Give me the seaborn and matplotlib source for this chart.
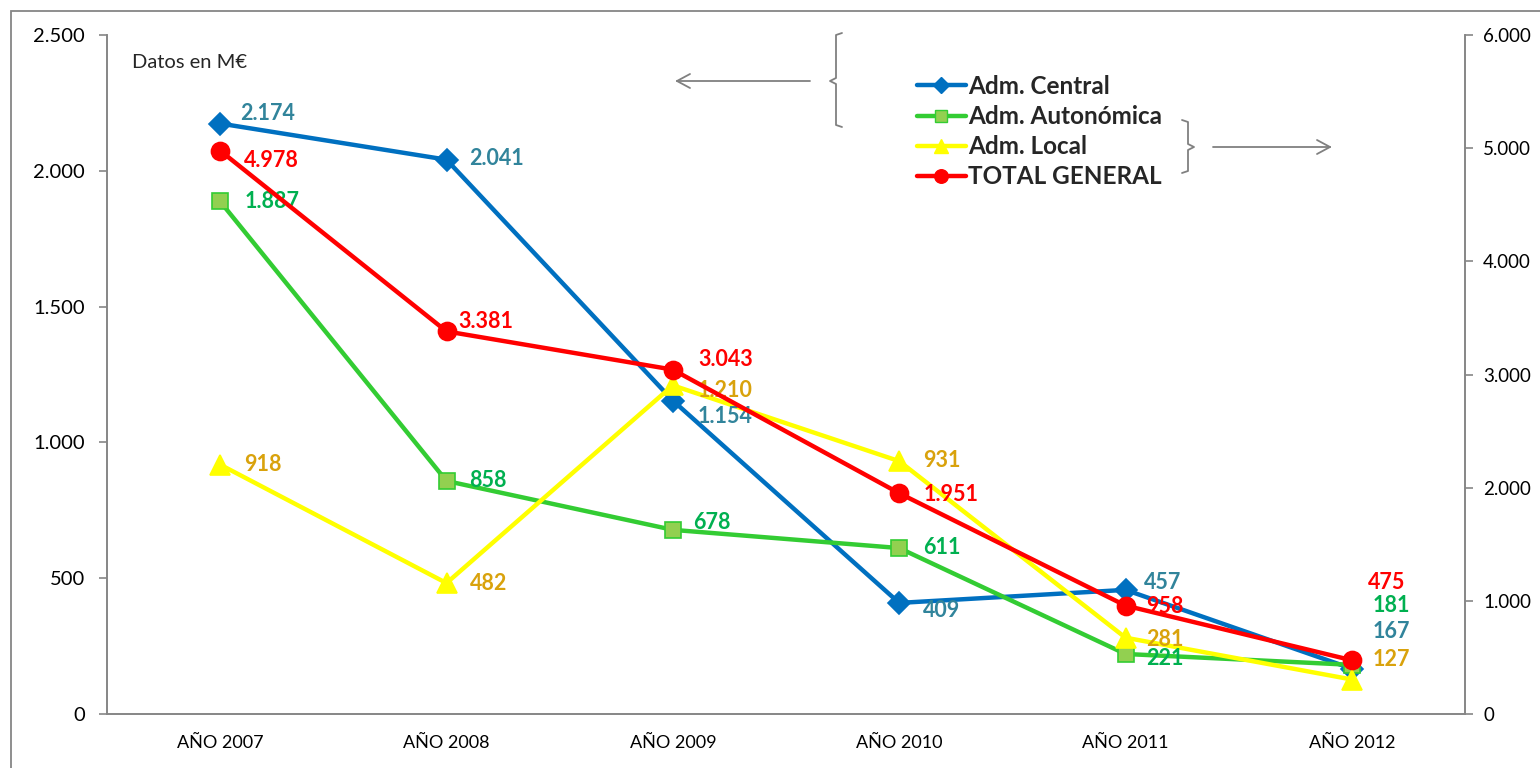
import matplotlib
matplotlib.use("Agg")
import matplotlib.pyplot as plt
from matplotlib.lines import Line2D
from matplotlib.patches import Rectangle
from matplotlib.ticker import FuncFormatter
import seaborn as sns

# Datos en M€
years = ["AÑO 2007", "AÑO 2008", "AÑO 2009", "AÑO 2010", "AÑO 2011", "AÑO 2012"]
central = [2174, 2041, 1154, 409, 457, 167]
autonomica = [1887, 858, 678, 611, 221, 181]
local = [918, 482, 1210, 931, 281, 127]
total = [4978, 3381, 3043, 1951, 958, 475]

# label offsets in pixels (dx, dy) for each point
off_central = [(20, 10), (23, 1), (25, -16), (24, -8), (18, 7), (21, 37)]
off_auto = [(24, 0), (23, 0), (20, 7), (24, 1), (21, -5), (21, 59)]
off_local = [(24, 0), (23, 0), (25, -5), (24, 1), (21, -2), (21, 20)]
off_total = [(24, -10), (12, 10), (25, 10), (24, -1), (21, -1), (16, 78)]

sns.set_style("white")
plt.rcParams['font.family'] = ['Lato', 'DejaVu Sans']

def miles(v, pos=None):
    return f"{int(v):,}".replace(",", ".")

fig = plt.figure(figsize=(15.4, 7.68), dpi=100)
ax = fig.add_axes([107 / 1540, 1 - 714 / 768, (1465 - 107) / 1540, (714 - 35) / 768])
ax2 = ax.twinx()

xs = list(range(len(years)))
series = [
    (ax, central, "Adm. Central", "#0070C0", "D", 11, "#0070C0", "#0070C0", "#31849B", off_central, 2),
    (ax, autonomica, "Adm. Autonómica", "#33CC33", "s", 12, "#92D050", "#33CC33", "#00B050", off_auto, 3),
    (ax, local, "Adm. Local", "#FFFF00", "^", 14, "#FFFF00", "#FFFF00", "#D9A20C", off_local, 4),
    (ax2, total, "TOTAL GENERAL", "#FF0000", "o", 13, "#FF0000", "#FF0000", "#FF0000", off_total, 5),
]

handles = []
for a, vals, name, col, mk, ms, fc, ec, lc, offs, z in series:
    sns.lineplot(x=xs, y=vals, ax=a, color=col, linewidth=3.2, marker=mk,
                 markersize=ms, markerfacecolor=fc, markeredgecolor=ec,
                 markeredgewidth=1.2, zorder=z, legend=False)
    for x, v, (dx, dy) in zip(xs, vals, offs):
        a.annotate(miles(v), (x, v), xytext=(dx, dy), textcoords="offset pixels",
                   ha="left", va="center", color=lc, fontsize=15.5,
                   fontweight="bold", zorder=10)
    handles.append(Line2D([], [], color=col, linewidth=3.2, marker=mk,
                          markersize=ms * 0.75, markerfacecolor=fc,
                          markeredgecolor=ec, label=name))

ax.set_xlim(-0.5, len(years) - 0.5)
ax.set_ylim(0, 2500)
ax2.set_ylim(0, 6000)
ax.set_yticks(range(0, 2501, 500))
ax2.set_yticks(range(0, 6001, 1000))
ax.yaxis.set_major_formatter(FuncFormatter(miles))
ax2.yaxis.set_major_formatter(FuncFormatter(miles))
ax.set_xticks(xs)
ax.set_xticklabels(years)

spine_col = "#868686"
for a in (ax, ax2):
    for s in a.spines.values():
        s.set_color(spine_col)
        s.set_linewidth(1.2)
    a.spines["top"].set_visible(False)
    a.tick_params(axis="both", labelsize=14.5, colors=spine_col,
                  labelcolor="black", length=6, width=1.2, direction="out")
ax.tick_params(axis="x", length=0, pad=15, labelsize=13)
ax.tick_params(axis="y", pad=10)
ax2.tick_params(axis="y", pad=7, labelsize=13.5)
ax.set_xlabel("")
ax.set_ylabel("")
ax2.set_ylabel("")

ax.text(132 / 1540, 1 - 62 / 768, "Datos en M€", transform=fig.transFigure,
        fontsize=14.5, ha="left", va="center")

leg = ax2.legend(handles=handles, loc="upper left",
                 bbox_to_anchor=(917 / 1540, 1 - 75 / 768),
                 bbox_transform=fig.transFigure, frameon=False,
                 prop={"size": 17.5, "weight": "bold"}, handlelength=2.0,
                 handletextpad=0.1, labelspacing=0.29, borderpad=0,
                 borderaxespad=0)

# brackets and arrows
def fig_line(xp, yp, **kw):
    fig.add_artist(Line2D([x / 1540 for x in xp], [1 - y / 768 for y in yp],
                          transform=fig.transFigure, color="#808080",
                          linewidth=1.3, **kw))

fig_line([842, 836, 836, 830, 836, 836, 842], [33, 35, 78, 81, 84, 125, 127])
fig_line([810, 677], [81, 81])
fig_line([677, 690], [81, 74])
fig_line([677, 690], [81, 88])
fig_line([1182, 1188, 1188, 1194, 1188, 1188, 1182], [120, 122, 144, 147, 150, 171, 173])
fig_line([1213, 1330], [147, 147])
fig_line([1330, 1317], [147, 140])
fig_line([1330, 1317], [147, 154])

# outer chart border
fig.add_artist(Rectangle((11 / 1540, -0.1), 1.2, 1 - 11 / 768 + 0.1,
                         transform=fig.transFigure, fill=False,
                         edgecolor="#868686", linewidth=1.3))

fig.savefig("out.png", dpi=100)
